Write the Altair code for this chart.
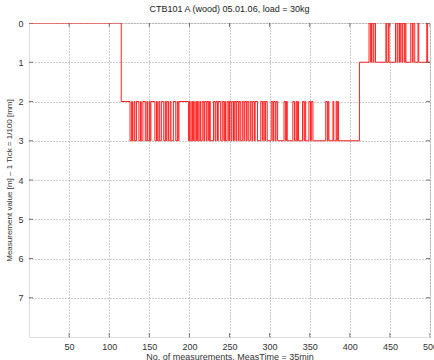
import altair as alt
import pandas as pd

# step-change points (measurement index, value)
phase_zero = [(0, 0), (115, 2)]
phase_base2 = [(126, 3), (128, 2), (129, 3), (131, 2), (132, 3), (134, 2),
               (137, 3), (139, 2), (140, 3), (142, 2),
               (145, 3), (147, 2), (148, 3), (150, 2), (151, 3), (152, 2),
               (157, 3), (159, 2), (160, 3), (162, 2), (163, 3), (165, 2),
               (168, 3), (170, 2), (171, 3), (172, 2),
               (174, 3), (176, 2), (177, 3), (180, 2),
               (183, 3), (185, 2), (186, 3), (187, 2),
               (199, 3), (200, 2), (201, 3), (203, 2), (204, 3), (205, 2),
               (206, 3), (208, 2), (209, 3), (210, 2), (211, 3), (213, 2), (214, 3)]
phase_base3 = [(216, 2), (218, 3), (219, 2), (221, 3), (222, 2), (224, 3), (225, 2), (226, 3),
               (230, 2), (232, 3), (233, 2), (235, 3), (236, 2), (239, 3),
               (241, 2), (243, 3), (244, 2), (245, 3),
               (247, 2), (249, 3), (250, 2), (252, 3), (253, 2), (255, 3),
               (256, 2), (258, 3), (259, 2), (261, 3), (262, 2), (264, 3),
               (266, 2), (268, 3), (269, 2), (271, 3), (272, 2), (274, 3),
               (276, 2), (278, 3), (279, 2), (281, 3), (282, 2), (285, 3),
               (289, 2), (291, 3), (292, 2), (294, 3), (295, 2), (297, 3),
               (302, 2), (304, 3), (305, 2), (307, 3), (308, 2), (310, 3),
               (318, 2), (320, 3), (321, 2), (322, 3),
               (329, 2), (331, 3), (333, 2), (334, 3), (335, 2), (336, 3),
               (341, 2), (343, 3), (344, 2), (345, 3),
               (349, 2), (351, 3), (352, 2), (354, 3),
               (370, 2), (372, 3), (373, 2), (374, 3),
               (379, 2), (380, 3), (383, 2), (384, 3), (385, 2), (386, 3)]
phase_base1 = [(412, 1),
               (424, 0), (426, 1), (427, 0), (429, 1), (430, 0), (432, 1),
               (445, 0), (446, 1), (448, 0), (449, 1),
               (457, 0), (459, 1), (460, 0), (462, 1), (463, 0), (465, 1),
               (466, 0), (468, 1), (469, 0), (470, 1),
               (476, 0), (478, 1), (479, 0), (481, 1),
               (485, 0), (486, 1), (496, 0), (497, 1), (500, 1)]

x_ticks = [50, 100, 150, 200, 250, 300, 350, 400, 450, 500]
y_ticks = [0, 1, 2, 3, 4, 5, 6, 7]

pts = phase_zero + phase_base2 + phase_base3 + phase_base1
df = pd.DataFrame(pts, columns=["n", "v"])

FONT = "Liberation Sans"
xs = alt.Scale(domain=[0, 500], nice=False, zero=False)
ys = alt.Scale(domain=[0, 8], reverse=True, nice=False, zero=False)

line = alt.Chart(df).mark_line(color="#ff2020", strokeWidth=1, interpolate="step-after", clip=True).encode(
    x=alt.X("n:Q", scale=xs, title="No. of measurements, MeasTime = 35min",
            axis=alt.Axis(values=x_ticks, grid=True, gridDash=[1, 2], gridColor="#888",
                          gridOpacity=0.8, tickSize=0, labelPadding=5, domain=False,
                          labelFontSize=9, titleFontSize=9, titleFontWeight="normal",
                          labelFont=FONT, titleFont=FONT, labelColor="#333", titleColor="#333",
                          titlePadding=1, labelFlush=False)),
    y=alt.Y("v:Q", scale=ys, title="Measurement value [m] – 1 Tick = 1/100 [mm]",
            axis=alt.Axis(values=y_ticks, grid=True, gridDash=[1, 2], gridColor="#888",
                          gridOpacity=0.8, tickSize=0, labelPadding=6, domain=False,
                          labelFontSize=9, titleFontSize=8, titleFontWeight="normal",
                          labelFont=FONT, titleFont=FONT, labelColor="#333", titleColor="#333",
                          titlePadding=4)),
)

xt = pd.DataFrame({"t": x_ticks})
yt = pd.DataFrame({"t": y_ticks})
xtick_top = alt.Chart(xt).mark_tick(color="#444", size=8, thickness=1, clip=True).encode(
    x=alt.X("t:Q", scale=xs), y=alt.value(0))
xtick_bot = alt.Chart(xt).mark_tick(color="#444", size=8, thickness=1, clip=True).encode(
    x=alt.X("t:Q", scale=xs), y=alt.value(314))
ytick_l = alt.Chart(yt).mark_tick(color="#444", size=8, thickness=1, clip=True, orient="horizontal").encode(
    y=alt.Y("t:Q", scale=ys), x=alt.value(0))
ytick_r = alt.Chart(yt).mark_tick(color="#444", size=8, thickness=1, clip=True, orient="horizontal").encode(
    y=alt.Y("t:Q", scale=ys), x=alt.value(401))

chart = alt.layer(line, xtick_top, xtick_bot, ytick_l, ytick_r).properties(
    width=401, height=314,
    title=alt.TitleParams("CTB101 A (wood) 05.01.06, load = 30kg", fontSize=9, font=FONT,
                          fontWeight="normal", color="#222", offset=5, frame="group",
                          anchor="middle"),
    autosize=alt.AutoSizeParams(type="none"),
    padding={"left": 29, "top": 23, "right": 4, "bottom": 23},
).configure_view(stroke="#444", strokeWidth=1).configure(background="white")

chart.save("out.html", embed_options={"renderer": "svg", "actions": False})
